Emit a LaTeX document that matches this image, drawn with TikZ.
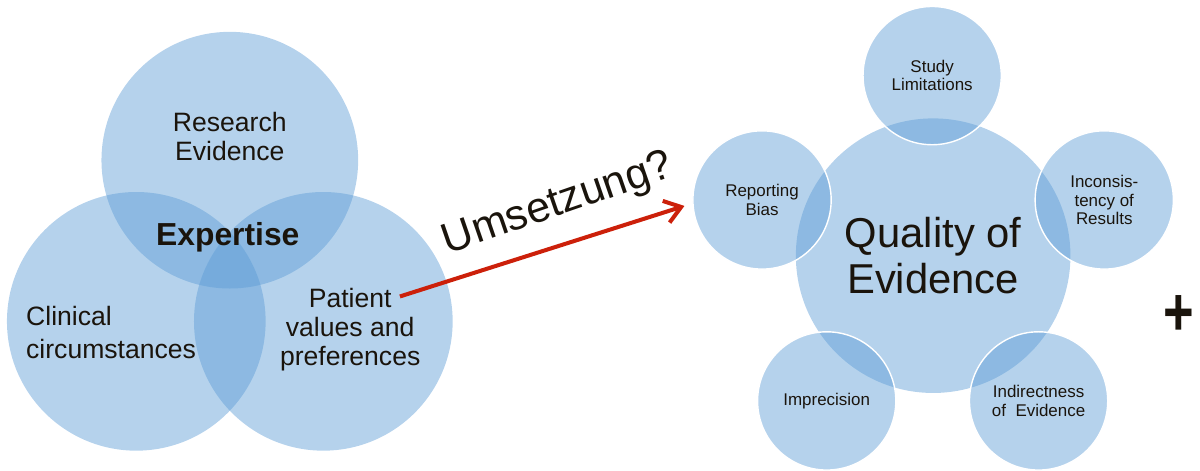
\documentclass[tikz,border=0pt]{standalone}
\usepackage{fontspec}
\setmainfont{Liberation Sans}
\usepackage{xcolor}
\usetikzlibrary{arrows.meta}

\definecolor{vennblue}{RGB}{91,155,213}
\definecolor{ink}{RGB}{26,20,12}
\definecolor{arrowred}{RGB}{204,32,10}

\begin{document}
\begin{tikzpicture}[x=0.02cm, y=-0.02cm,
	disc/.style={fill=vennblue, fill opacity=0.45},
	venntext/.style={text=ink, inner sep=0pt, font=\fontsize{15.2}{16.6}\selectfont},
	petal/.style={circle, disc, draw=white, draw opacity=1, line width=0.8pt, minimum size=2.78cm, inner sep=0pt, align=center, text=ink, text opacity=1, font=\fontsize{9.7}{10.4}\selectfont}]
		\path (0,0) rectangle (1200,472);
		\newcommand{\RVenn}{130}
		\newcommand{\RBig}{138}
		
		% three circles of the venn diagram
		\fill[disc] (231,161) circle[radius=129];
		\fill[disc] (137,323) circle[radius=\RVenn];
		\fill[disc] (325,323) circle[radius=\RVenn];
		
		\node[venntext, align=center] (research) at (231,137) {Research\\Evidence};
		\node[venntext, font=\fontsize{18.2}{20}\selectfont\bfseries] (expertise) at (229,238) {Expertise};
		\node[venntext, align=left, anchor=west, font=\fontsize{15.2}{18.8}\selectfont] (clinical) at (26,334) {Clinical\\circumstances};
		\node[venntext, align=center] (patient) at (352,331) {Patient\\values and\\preferences};
		
		% arrow over to the quality circles
		\coordinate (start) at (402,298);
		\coordinate (tip) at (688,207);
		\draw[-{Straight Barb[length=9pt,width=13pt]}, arrowred, line width=2.3pt] (start) -- (tip);
		\node[text=ink, rotate=19, font=\fontsize{24.5}{27}\selectfont] (umsetzung) at (561,206) {Umsetzung?};
		
		% quality of evidence and its five factors
		\fill[disc] (938,257) circle[radius=\RBig];
		\node[petal] (limits) at (937,76) {Study\\Limitations};
		\node[petal] (bias) at (766,201) {Reporting\\Bias};
		\node[petal] (incons) at (1110,201) {Inconsis-\\tency of\\Results};
		\node[petal] (imprec) at (831,403) {Imprecision};
		\node[petal] (indirect) at (1044,403) {Indirectness\\of \ Evidence};
		\node[venntext, align=center, font=\fontsize{23.9}{26.7}\selectfont] (quality) at (938,257) {Quality of\\Evidence};
		
		\node[text=ink, font=\fontsize{30}{30}\selectfont\bfseries] (plus) at (1185,317) {\scalebox{1}[1.3]{+}};
	\end{tikzpicture}
\end{document}
